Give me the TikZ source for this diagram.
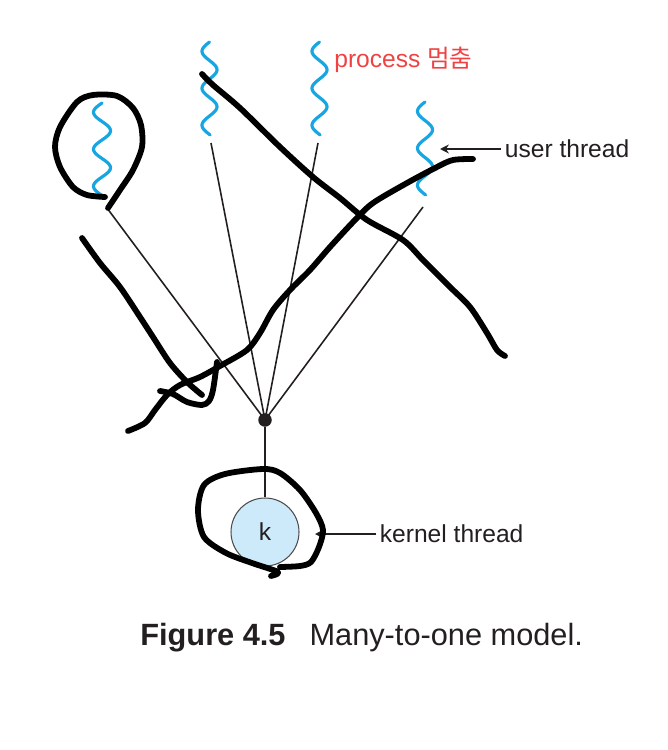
\documentclass[tikz,border=0pt]{standalone}
\usepackage{fontspec}
\setmainfont{Liberation Sans}
\newfontfamily\kofont{Noto Sans CJK KR}
\usetikzlibrary{arrows.meta}
\definecolor{threadblue}{RGB}{24,166,226}
\definecolor{kfill}{RGB}{204,234,249}
\definecolor{inkred}{RGB}{240,66,66}
\definecolor{ink}{RGB}{35,31,32}
\tikzset{
  wave/.style={threadblue,line width=1.8pt,line cap=round},
  link/.style={ink,line width=0.9pt},
  scribble/.style={black,line width=3.3pt,line cap=round,line join=round},
  ptr/.style={ink,line width=0.85pt,-{Stealth[length=5pt,width=5pt]}},
  lbl/.style={ink,font=\fontsize{14}{16}\selectfont,inner sep=2pt},
}
\begin{document}
\begin{tikzpicture}[x=0.02cm,y=-0.02cm]
\useasboundingbox (0,0) rectangle (668,750);
\draw[wave] plot[domain=0:93,samples=90,smooth] ({102-8.5*sin(9.73*\x)},{103+\x});
\draw[wave] plot[domain=0:93,samples=90,smooth] ({209.5-7.5*sin(9.73*\x)},{42+\x});
\draw[wave] plot[domain=0:93,samples=90,smooth] ({319.5-7.5*sin(9.73*\x)},{42+\x});
\draw[wave] plot[domain=0:93,samples=90,smooth] ({425-7.5*sin(9.73*\x)},{102+\x});
\coordinate (t1) at (107,208);
\coordinate (t2) at (211,143);
\coordinate (t3) at (318,143);
\coordinate (t4) at (423,207);
\node[circle,fill=ink,inner sep=0pt,minimum size=0.27cm] (hub) at (265,420) {};
\node[circle,draw=ink!80,line width=0.6pt,fill=kfill,minimum size=1.36cm,
  font=\fontsize{14}{16}\selectfont,text=ink] (k) at (265,532) {k};
\draw[link] (t1) -- (hub.center);
\draw[link] (t2) -- (hub.center);
\draw[link] (t3) -- (hub.center);
\draw[link] (t4) -- (hub.center);
\draw[link] (hub) -- (k);
\node[lbl,anchor=west] (ut) at (501,149) {user thread};
\coordinate (utip) at (440,149);
\draw[ptr] (ut) -- (utip);
\node[lbl,anchor=west] (kt) at (376,534) {kernel thread};
\coordinate (ktip) at (315,534);
\draw[ptr] (kt) -- (ktip);
\node[anchor=west,inner sep=0pt,text=inkred,font=\fontsize{14}{16}\selectfont] (stop) at (334,60) {process {\kofont 멈춤}};
\node[anchor=west,inner sep=0pt,text=ink,font=\fontsize{17.5}{20}\selectfont] (cap) at (140,638)
  {{\bfseries Figure 4.5}\hspace{0.78em}Many-to-one model.};
\draw[scribble] plot[smooth] coordinates {(105,197) (87,195) (73,187) (60,167) (55,147) (60,127) (77,102) (93,95) (117,96) (133,108) (141,125) (142,147) (133,170) (120,190) (108,208)};
\draw[scribble] plot[smooth] coordinates {(202,74) (213,85) (240,108) (280,147) (313,177) (340,198) (367,220) (403,240) (423,260) (450,287) (470,307) (487,333) (497,350) (505,356)};
\draw[scribble] plot[smooth] coordinates {(473,159) (453,160) (437,167) (407,183) (373,203) (355,220) (330,247) (310,270) (290,290) (273,310) (260,333) (247,350) (220,366) (200,377) (180,385) (167,395) (155,410) (145,423) (128,431)};
\draw[scribble] plot[smooth] coordinates {(82,238) (100,263) (120,287) (140,317) (153,337) (170,363) (187,382) (202,395)};
\draw[scribble] plot[smooth] coordinates {(160,391) (173,394) (187,402) (202,405) (209,401) (213,390) (217,362)};
\draw[scribble] plot[smooth] coordinates {(280,567) (300,566) (311,562) (319,547) (323,530) (316,513) (300,490) (280,473) (263,469) (225,474) (204,485) (198,510) (204,537) (226,553) (252,563) (278,572) (271,576)};
\end{tikzpicture}
\end{document}
